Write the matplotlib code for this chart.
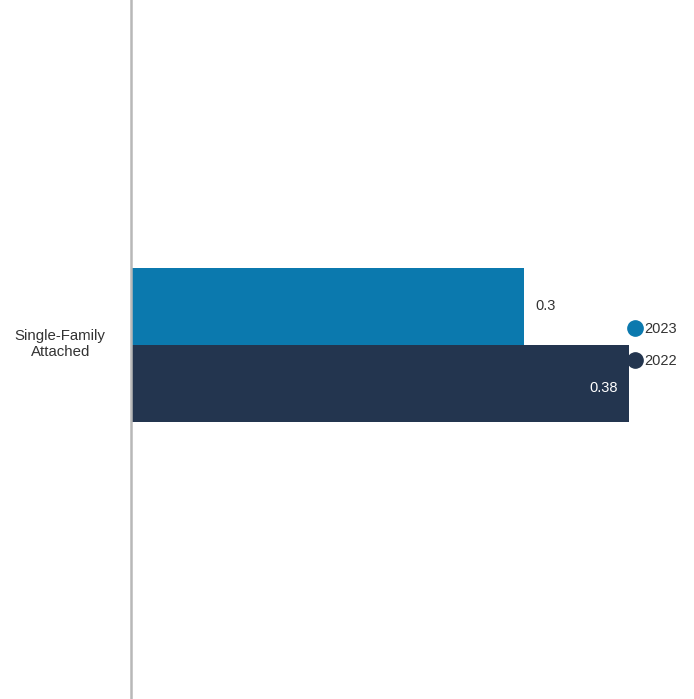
import matplotlib.pyplot as plt
from matplotlib.lines import Line2D

# Chart data
categories = ["Single-Family\nAttached"]
years = ["2023", "2022"]
values_2023 = [0.3]
values_2022 = [0.38]
value_labels_2023 = ["0.3"]
value_labels_2022 = ["0.38"]

color_2023 = "#0b79ae"
color_2022 = "#23354f"
text_color = "#333333"

plt.rcParams["font.family"] = ["Liberation Sans", "DejaVu Sans"]

fig = plt.figure(figsize=(6.94, 6.99), dpi=100)
ax = fig.add_axes([131 / 694, 0, 1 - 131 / 694, 1])

bar_h = 0.35
y_pos = list(range(len(categories)))
y_2023 = [y + bar_h / 2 for y in y_pos]
y_2022 = [y - bar_h / 2 for y in y_pos]

ax.barh(y_2023, values_2023, height=bar_h, color=color_2023, label=years[0])
ax.barh(y_2022, values_2022, height=bar_h, color=color_2022, label=years[1])

# value labels: 2023 outside, 2022 inside
for y, v, lab in zip(y_2023, values_2023, value_labels_2023):
    ax.text(v + 0.009, y, lab, va="center", ha="left", fontsize=10.5, color=text_color)
for y, v, lab in zip(y_2022, values_2022, value_labels_2022):
    ax.text(v - 0.008, y - 0.02, lab, va="center", ha="right", fontsize=10.5, color="white")

ax.set_xlim(0, 563 / 1310)
ax.set_ylim(-1.609, 1.568)

ax.set_yticks([y + 0.015 for y in y_pos])
ax.set_yticklabels(categories, fontsize=10.8, color=text_color, ha="center")
ax.tick_params(axis="y", length=0, pad=51)
ax.set_xticks([])

for s in ["top", "right", "bottom"]:
    ax.spines[s].set_visible(False)
ax.spines["left"].set_color("#b8b8b8")
ax.spines["left"].set_linewidth(1.8)

handles = [
    Line2D([], [], marker="o", linestyle="none", markersize=11, color=color_2023),
    Line2D([], [], marker="o", linestyle="none", markersize=11, color=color_2022),
]
fig.legend(handles, years, loc="center left", bbox_to_anchor=(622 / 694, 1 - 345 / 699),
           frameon=False, fontsize=10.5, handlelength=0.8, handletextpad=0.2,
           labelspacing=1.28, borderpad=0, labelcolor=text_color)

fig.savefig("out.png", dpi=100, facecolor="white")
